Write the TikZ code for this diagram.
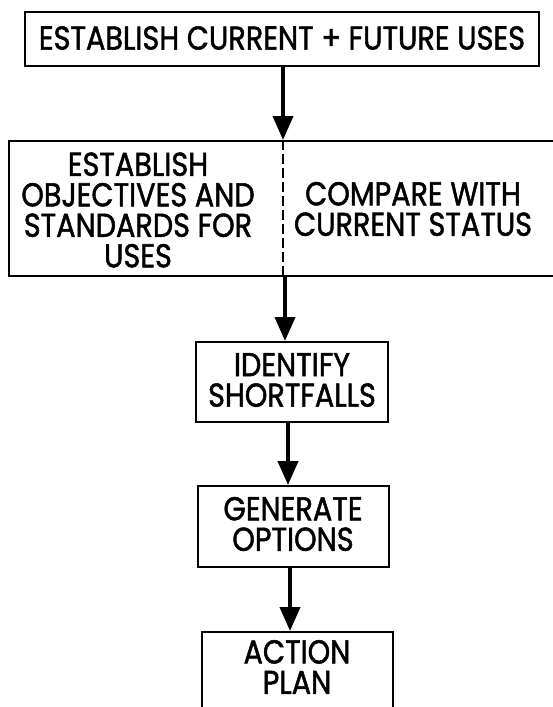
\documentclass[tikz,border=0pt]{standalone}
\usepackage{fontspec}
\newfontfamily\lblfont{Poppins}[FakeBold=1.6]
\usetikzlibrary{arrows.meta}
\newcommand{\nl}[1]{\scalebox{0.87}[1]{#1}}
\begin{document}
\begin{tikzpicture}[x=1pt,y=-1pt,
  box/.style={draw,line width=1.8pt,inner sep=0pt},
  lbl/.style={font=\fontsize{33}{30.5}\lblfont,align=center,inner sep=0pt},
  arr/.style={line width=4pt,-{Triangle[length=24pt,width=20pt]}}]
\useasboundingbox (0,0) rectangle (553,707);
% boxes
\node[box,minimum width=514pt,minimum height=54pt,anchor=north west] (b1) at (24,11) {};
\node[lbl] (t1) at (282,38) {\nl{ESTABLISH CURRENT + FUTURE USES}};
\node[box,minimum width=548pt,minimum height=135pt,anchor=north west] (b2) at (8,140) {};
\node[lbl] (t2a) at (138,210) {\nl{ESTABLISH}\\\nl{OBJECTIVES AND}\\\nl{STANDARDS FOR}\\\nl{USES}};
\node[lbl] (t2b) at (413,209) {\nl{COMPARE WITH}\\\nl{CURRENT STATUS}};
\coordinate (d1) at (283,140);
\coordinate (d2) at (283,275);
\draw[line width=1.6pt,dash pattern=on 10pt off 4pt] (d1) -- (d2);
\node[box,minimum width=192pt,minimum height=80pt,anchor=north west] (b3) at (195,341) {};
\node[lbl] (t3) at (292,380) {\nl{IDENTIFY}\\\nl{SHORTFALLS}};
\node[box,minimum width=191pt,minimum height=81pt,anchor=north west] (b4) at (197,485) {};
\node[lbl] (t4) at (293,524) {\nl{GENERATE}\\\nl{OPTIONS}};
\node[box,minimum width=191pt,minimum height=76pt,anchor=north west] (b5) at (201,631) {};
\node[lbl] (t5) at (297,667) {\nl{ACTION}\\\nl{PLAN}};
% arrows
\draw[arr] (b1.south -| d1) -- (b2.north -| d1);
\draw[arr] (285,275) -- (b3.north -| 285,0);
\draw[arr] (288,421) -- (288,485);
\draw[arr] (290,566) -- (290,631);
\end{tikzpicture}
\end{document}
